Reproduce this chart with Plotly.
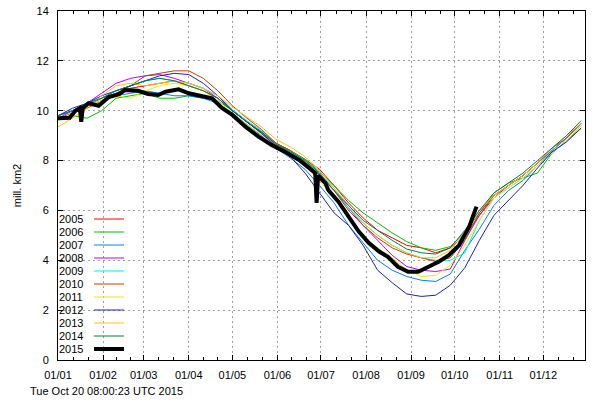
import plotly.graph_objects as go

# ---------------- data ----------------
days = [1, 11, 21, 31, 41, 51, 61, 71, 81, 91, 101, 111, 121, 131, 141, 151, 161, 171, 181,
        191, 201, 211, 221, 231, 241, 251, 261, 271, 281, 291, 301, 311, 321, 331, 341, 351, 361]

y2005 = [9.8, 10.0, 10.2, 10.5, 10.7, 10.9, 11.0, 11.1, 11.2, 11.0, 10.8, 10.5, 10.0, 9.55, 9.15, 8.7, 8.4, 8.05, 7.65,
         7.0, 6.3, 5.7, 5.2, 4.9, 4.6, 4.5, 4.3, 4.5, 5.0, 5.8, 6.6, 7.0, 7.4, 7.9, 8.4, 8.9, 9.5]
y2006 = [9.7, 9.8, 9.7, 10.0, 10.5, 10.6, 10.7, 10.5, 10.5, 10.6, 10.5, 10.4, 10.0, 9.55, 9.15, 8.65, 8.4, 8.05, 7.55,
         7.0, 6.4, 5.9, 5.5, 5.1, 4.75, 4.5, 4.4, 4.55, 5.1, 5.9, 6.7, 7.1, 7.3, 7.5, 8.3, 8.8, 9.3]
y2007 = [9.8, 10.0, 10.2, 10.4, 10.6, 10.7, 10.8, 10.7, 10.6, 10.6, 10.5, 10.3, 9.9, 9.45, 9.0, 8.5, 8.1, 7.65, 7.0,
         6.3, 5.4, 4.7, 4.0, 3.6, 3.35, 3.2, 3.15, 3.45, 4.4, 5.25, 6.2, 6.8, 7.2, 7.8, 8.3, 8.8, 9.4]
y2008 = [9.7, 10.0, 10.3, 10.7, 11.1, 11.3, 11.4, 11.45, 11.3, 11.1, 10.9, 10.5, 10.0, 9.55, 9.1, 8.6, 8.3, 7.95, 7.45,
         6.8, 6.1, 5.4, 4.8, 4.2, 3.75, 3.6, 3.55, 3.65, 4.8, 5.8, 6.5, 7.0, 7.4, 7.9, 8.4, 8.9, 9.5]
y2009 = [9.8, 10.0, 10.3, 10.5, 10.8, 11.0, 11.2, 11.3, 11.2, 11.1, 10.9, 10.6, 10.05, 9.6, 9.2, 8.7, 8.4, 8.0, 7.5,
         6.9, 6.1, 5.5, 5.0, 4.6, 4.3, 4.1, 4.0, 4.0, 4.3, 5.6, 6.5, 6.9, 7.3, 7.8, 8.4, 8.9, 9.5]
y2010 = [9.7, 9.9, 10.1, 10.4, 10.7, 11.0, 11.4, 11.5, 11.6, 11.6, 11.3, 10.8, 10.2, 9.7, 9.25, 8.7, 8.4, 7.95, 7.4,
         6.8, 6.0, 5.4, 4.9, 4.5, 4.25, 4.1, 3.95, 4.1, 4.8, 5.9, 6.6, 7.0, 7.4, 7.9, 8.5, 8.9, 9.5]
y2011 = [9.6, 9.9, 10.2, 10.4, 10.6, 10.5, 10.8, 11.0, 11.1, 11.0, 10.8, 10.4, 9.9, 9.45, 9.05, 8.55, 8.2, 7.8, 7.2,
         6.5, 5.8, 4.9, 4.5, 4.1, 3.6, 3.35, 3.4, 3.8, 4.6, 5.6, 6.5, 6.9, 7.3, 7.8, 8.3, 8.8, 9.4]
y2012 = [9.8, 10.1, 10.3, 10.6, 10.8, 11.0, 11.2, 11.4, 11.5, 11.45, 11.1, 10.6, 10.0, 9.55, 9.1, 8.55, 8.15, 7.5, 6.7,
         5.9, 5.4, 4.6, 3.6, 3.1, 2.65, 2.55, 2.6, 3.0, 3.7, 4.8, 5.8, 6.4, 7.0, 7.7, 8.35, 8.75, 9.3]
y2013 = [9.35, 9.7, 10.1, 10.6, 11.0, 11.1, 11.0, 11.1, 11.2, 11.1, 10.9, 10.6, 10.15, 9.75, 9.35, 8.85, 8.55, 8.15, 7.6,
         6.9, 6.2, 5.5, 5.0, 4.6, 4.3, 4.1, 4.1, 4.4, 5.1, 6.0, 6.6, 7.0, 7.4, 7.9, 8.5, 9.0, 9.5]
y2014 = [9.8, 10.0, 10.3, 10.5, 10.8, 11.0, 11.2, 11.3, 11.2, 11.0, 10.8, 10.5, 10.0, 9.55, 9.15, 8.65, 8.35, 8.0, 7.5,
         6.8, 6.2, 5.6, 5.2, 4.8, 4.45, 4.3, 4.25, 4.5, 5.2, 6.0, 6.7, 7.1, 7.5, 8.0, 8.5, 9.0, 9.6]

days2015 = [1, 5, 9, 13, 16, 17, 18, 22, 29, 36, 43, 47, 56, 63, 70, 75, 84, 91, 98, 107, 114, 121,
            130, 139, 148, 157, 167, 176, 178, 179, 180, 185, 187, 194, 201, 208, 215, 222, 228, 235,
            242, 249, 256, 263, 270, 277, 284, 289]
y2015 = [9.7, 9.7, 9.72, 10.0, 10.1, 9.56, 10.1, 10.3, 10.2, 10.55, 10.66, 10.83, 10.8, 10.67, 10.63, 10.76,
         10.86, 10.7, 10.6, 10.5, 10.1, 9.83, 9.36, 8.96, 8.62, 8.36, 8.02, 7.62, 7.5, 6.3, 7.4, 7.1, 6.82,
         6.35, 5.75, 5.15, 4.69, 4.35, 4.14, 3.74, 3.54, 3.54, 3.74, 3.94, 4.2, 4.6, 5.35, 6.15]

years = ["2005", "2006", "2007", "2008", "2009", "2010", "2011", "2012", "2013", "2014", "2015"]
series = [y2005, y2006, y2007, y2008, y2009, y2010, y2011, y2012, y2013, y2014, y2015]
colors = ["#ff0000", "#00c000", "#0080ff", "#c000ff", "#00eeee", "#c04000",
          "#eeee00", "#2020c0", "#ffc020", "#008040", "#000000"]

month_days = [1, 32, 60, 91, 121, 152, 182, 213, 244, 274, 305, 335]
month_labels = ["01/01", "01/02", "01/03", "01/04", "01/05", "01/06",
                "01/07", "01/08", "01/09", "01/10", "01/11", "01/12"]
y_ticks = [0, 2, 4, 6, 8, 10, 12, 14]
timestamp = "Tue Oct 20 08:00:23 UTC 2015"

# ---------------- figure ----------------
FONT = "Liberation Sans, Arial, sans-serif"
fig = go.Figure()
for name, vals, col in zip(years, series, colors):
    xs = days2015 if name == "2015" else days
    fig.add_trace(go.Scatter(x=xs, y=vals, mode="lines", name=name,
                             line=dict(color=col, width=4 if name == "2015" else 1),
                             showlegend=False, hoverinfo="skip"))

# minor ticks: two between each month
ends = month_days + [366]
minor_vals = []
for a, b in zip(ends[:-1], ends[1:]):
    minor_vals += [a + (b - a) / 3, a + 2 * (b - a) / 3]

# manual gnuplot-style legend (label left, sample right)
L, R, T, B = 58, 585, 11, 360
W, H = R - L, B - T
shapes, annos = [], []
for i, (name, col) in enumerate(zip(years, colors)):
    py = 219 + 13 * i
    yp = (B - py) / H
    annos.append(dict(x=(85 - L) / W, y=yp, xref="paper", yref="paper", text=name,
                      showarrow=False, xanchor="right", yanchor="middle",
                      font=dict(family=FONT, size=11, color="black")))
    shapes.append(dict(type="line", xref="paper", yref="paper",
                       x0=(94 - L) / W, x1=(124 - L) / W, y0=yp, y1=yp,
                       line=dict(color=col, width=4 if name == "2015" else 1)))

annos.append(dict(x=(28 - L) / W, y=(B - 391) / H, xref="paper", yref="paper", text=timestamp,
                  showarrow=False, xanchor="left", yanchor="middle",
                  font=dict(family=FONT, size=11, color="black")))

grid = dict(gridcolor="#a0a0a0", griddash="2px,3px", gridwidth=1)
fig.update_layout(
    width=600, height=400, margin=dict(l=L, r=600 - R, t=T, b=400 - B),
    paper_bgcolor="white", plot_bgcolor="white",
    font=dict(family=FONT, size=11, color="black"),
    shapes=shapes, annotations=annos,
    xaxis=dict(range=[1, 363.7], tickmode="array", tickvals=month_days, ticktext=month_labels,
               ticks="inside", ticklen=5, tickcolor="black", showline=True, linecolor="black",
               linewidth=1, mirror="allticks", zeroline=False, showgrid=True, **grid,
               minor=dict(tickmode="array", tickvals=minor_vals, ticks="inside", ticklen=3,
                          tickcolor="black", showgrid=False),
               ticklabelstandoff=5, automargin=False,
               tickfont=dict(family=FONT, size=11)),
    yaxis=dict(range=[0, 14], tickmode="array", tickvals=y_ticks, ticks="inside", ticklen=5,
               tickcolor="black", showline=True, linecolor="black", linewidth=1, mirror="allticks",
               zeroline=False, showgrid=True, **grid, ticklabelstandoff=6, automargin=False,
               title=dict(text="mill. km2", font=dict(family=FONT, size=11), standoff=12),
               tickfont=dict(family=FONT, size=11)),
)
fig.write_html("out.html", config={"displayModeBar": False},
               post_script="document.body.style.margin='0px';")
